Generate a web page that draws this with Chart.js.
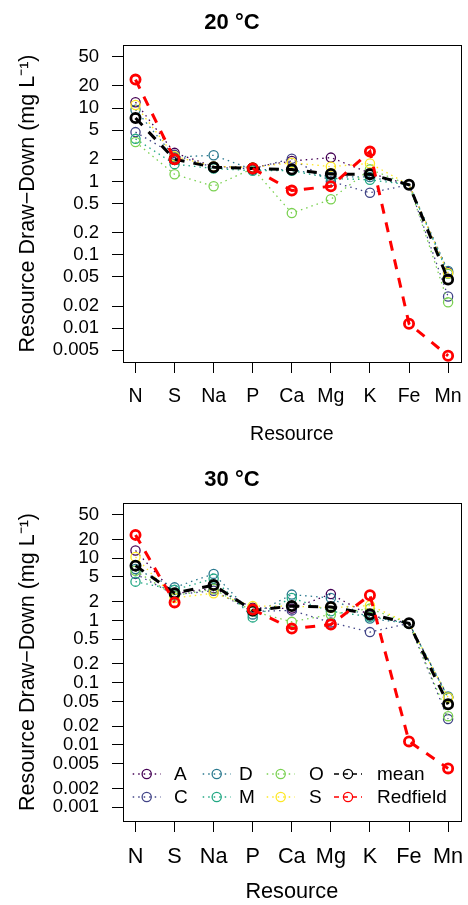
<!DOCTYPE html>
<html>
<head>
<meta charset="utf-8">
<script src="https://cdn.jsdelivr.net/npm/chart.js@4/dist/chart.umd.min.js"></script>
<style>
  body { margin: 0; background: #fff; }
  canvas { display: block; }
</style>
</head>
<body>
<canvas id="chart20" width="468" height="450"></canvas>
<canvas id="chart30" width="468" height="455"></canvas>
<script>
// categories
var resources = ['N', 'S', 'Na', 'P', 'Ca', 'Mg', 'K', 'Fe', 'Mn'];
var groups = ['A', 'C', 'D', 'M', 'O', 'S'];
var groupColors = ['#440154', '#414487', '#2A788E', '#22A884', '#7AD151', '#FDE725'];

// 20 °C draw-down (mg/L)
var A20 = [12.0, 2.45, 1.6, 1.55, 1.9, 2.11, 1.3, 0.9, 0.058];
var C20 = [4.7, 2.3, 1.55, 1.5, 2.04, 1.0, 0.70, 0.9, 0.027];
var D20 = [9.5, 2.15, 2.27, 1.45, 1.45, 1.15, 1.15, 0.9, 0.060];
var M20 = [3.8, 1.72, 1.5, 1.4, 1.4, 1.1, 1.05, 0.9, 0.055];
var O20 = [3.45, 1.25, 0.86, 1.5, 0.37, 0.57, 1.46, 0.9, 0.0225];
var S20 = [11.0, 2.2, 1.6, 1.55, 1.8, 1.59, 1.76, 0.9, 0.056];
var mean20 = [7.3, 2.0, 1.56, 1.5, 1.45, 1.26, 1.25, 0.9, 0.046];
var redfield20 = [24.4, 2.0, null, 1.5, 0.75, 0.86, 2.55, 0.0115, 0.0042];

// 30 °C draw-down (mg/L)
var A30 = [13.3, 2.7, 3.3, 1.6, 1.55, 2.65, 1.2, 0.9, 0.058];
var C30 = [5.6, 2.6, 3.0, 1.4, 1.45, 0.93, 0.65, 0.9, 0.026];
var D30 = [6.7, 3.4, 5.6, 1.25, 2.6, 2.3, 1.07, 0.9, 0.060];
var M30 = [4.2, 3.1, 4.7, 1.12, 2.3, 1.4, 1.15, 0.9, 0.058];
var O30 = [6.3, 2.5, 3.2, 1.4, 0.95, 1.25, 1.55, 0.9, 0.029];
var S30 = [10.5, 2.3, 2.74, 1.7, 1.7, 1.6, 1.74, 0.9, 0.058];
var mean30 = [7.6, 2.74, 3.7, 1.45, 1.7, 1.65, 1.26, 0.9, 0.045];
var redfield30 = [23.7, 1.95, null, 1.5, 0.74, 0.86, 2.55, 0.0114, 0.0042];

// tick labels
var yTicks20 = [0.005, 0.01, 0.02, 0.05, 0.1, 0.2, 0.5, 1, 2, 5, 10, 20, 50];
var yTicks30 = [0.001, 0.002, 0.005, 0.01, 0.02, 0.05, 0.1, 0.2, 0.5, 1, 2, 5, 10, 20, 50];

var FONT = "'Liberation Sans', Arial, Helvetica, sans-serif";

function toPoints(values) {
    return values.map(function (v, i) { return { x: i + 1, y: v }; });
}

function buildDatasets(series, mean, redfield) {
    var sets = [];
    groups.forEach(function (g, i) {
        sets.push({
            label: g,
            data: toPoints(series[i]),
            borderColor: groupColors[i],
            pointBorderColor: groupColors[i],
            backgroundColor: 'transparent',
            pointBackgroundColor: 'transparent',
            borderWidth: 1.3,
            borderDash: [1.5, 4],
            pointRadius: 4.6,
            pointBorderWidth: 1.3,
            order: 7 - i
        });
    });
    sets.push({
        label: 'mean',
        data: toPoints(mean),
        borderColor: '#000',
        pointBorderColor: '#000',
        pointBackgroundColor: 'transparent',
        borderWidth: 3,
        borderDash: [10, 9],
        pointRadius: 4.6,
        pointBorderWidth: 2.8,
        order: 1
    });
    sets.push({
        label: 'Redfield',
        data: toPoints(redfield),
        borderColor: '#ff0000',
        pointBorderColor: '#ff0000',
        pointBackgroundColor: 'transparent',
        borderWidth: 3,
        borderDash: [10, 9],
        pointRadius: 4.6,
        pointBorderWidth: 2.8,
        spanGaps: false,
        order: 0
    });
    return sets;
}

// frame round the plot region
var boxPlugin = {
    id: 'box',
    afterDatasetsDraw: function (chart) {
        var a = chart.chartArea, ctx = chart.ctx;
        ctx.save();
        ctx.strokeStyle = '#000';
        ctx.lineWidth = 1;
        ctx.strokeRect(Math.round(a.left) + 0.5, Math.round(a.top) + 0.5,
            Math.round(a.right - a.left), Math.round(a.bottom - a.top));
        ctx.restore();
    }
};

// legend inside the plot, bottom left, 4 columns x 2 rows
var insideLegend = {
    id: 'insideLegend',
    afterDatasetsDraw: function (chart) {
        var a = chart.chartArea, ctx = chart.ctx;
        var colCircle = [23.7, 93.7, 157.7, 225];
        var colText = [51, 116, 186, 254];
        var rowY = [-47, -24];
        ctx.save();
        chart.data.datasets.forEach(function (ds, i) {
            var col = Math.floor(i / 2), row = i % 2;
            var cx = a.left + colCircle[col];
            var cy = a.bottom + rowY[row];
            var thick = ds.label === 'mean' || ds.label === 'Redfield';
            ctx.strokeStyle = ds.borderColor;
            ctx.lineWidth = thick ? 1.5 : 1.3;
            ctx.setLineDash(thick ? [5, 4] : [1.5, 4]);
            ctx.beginPath();
            ctx.moveTo(cx - 14, cy);
            ctx.lineTo(cx + 14, cy);
            ctx.stroke();
            ctx.setLineDash([]);
            ctx.lineWidth = 1.3;
            ctx.beginPath();
            ctx.arc(cx, cy, 4.6, 0, Math.PI * 2);
            ctx.stroke();
            ctx.fillStyle = '#000';
            ctx.font = '19px ' + FONT;
            ctx.textAlign = 'left';
            ctx.textBaseline = 'middle';
            ctx.fillText(ds.label, a.left + colText[col], cy + 1);
        });
        ctx.restore();
    }
};

function makeChart(id, titleText, series, mean, redfield, yTicks, geo, withLegend) {
    // R style 4% extension of the log axis
    var lo = Math.log10(yTicks[0]), hi = Math.log10(yTicks[yTicks.length - 1]);
    var ext = (hi - lo) * 0.04;
    var plugins = [boxPlugin];
    if (withLegend) plugins.push(insideLegend);
    return new Chart(document.getElementById(id), {
        type: 'line',
        data: { datasets: buildDatasets(series, mean, redfield) },
        options: {
            responsive: false,
            animation: false,
            layout: { padding: { left: 0, right: 4, top: 0, bottom: 0 } },
            plugins: {
                legend: { display: false },
                tooltip: { enabled: false },
                title: {
                    display: true,
                    text: titleText,
                    color: '#000',
                    font: { family: FONT, size: 22, weight: 'bold' },
                    padding: { top: geo.titleTop, bottom: geo.titleBottom }
                }
            },
            scales: {
                x: {
                    type: 'linear',
                    min: 0.68,
                    max: 9.32,
                    afterBuildTicks: function (scale) {
                        scale.ticks = resources.map(function (r, i) { return { value: i + 1 }; });
                    },
                    afterFit: function (scale) {
                        scale.height = geo.xHeight;
                        scale.paddingLeft = 0;
                        scale.paddingRight = 0;
                    },
                    grid: { drawOnChartArea: false, tickLength: 11, color: '#000', lineWidth: 1 },
                    border: { display: false },
                    ticks: {
                        color: '#000',
                        padding: geo.xTickPad,
                        maxRotation: 0,
                        autoSkip: false,
                        font: { family: FONT, size: geo.xFont },
                        callback: function (v) { return resources[Math.round(v) - 1]; }
                    },
                    title: {
                        display: true,
                        text: 'Resource',
                        color: '#000',
                        font: { family: FONT, size: geo.xFont },
                        padding: { top: 0, bottom: geo.xTitlePad }
                    }
                },
                y: {
                    type: 'logarithmic',
                    min: Math.pow(10, lo - ext),
                    max: Math.pow(10, hi + ext),
                    afterBuildTicks: function (scale) {
                        scale.ticks = yTicks.map(function (v) { return { value: v }; });
                    },
                    afterFit: function (scale) {
                        scale.width = 123;
                        scale.paddingTop = 0;
                        scale.paddingBottom = 0;
                    },
                    grid: { drawOnChartArea: false, tickLength: 11, color: '#000', lineWidth: 1 },
                    border: { display: false },
                    ticks: {
                        color: '#000',
                        padding: 13,
                        autoSkip: false,
                        font: { family: FONT, size: 18.5 },
                        callback: function (v) { return String(v); }
                    },
                    title: {
                        display: true,
                        text: 'Resource Draw\u2212Down (mg L\u207B\u00B9)',
                        color: '#000',
                        font: { family: FONT, size: 21.5 },
                        padding: { top: 15, bottom: 0 }
                    }
                }
            }
        },
        plugins: plugins
    });
}

makeChart('chart20', '20 \u00B0C', [A20, C20, D20, M20, O20, S20], mean20, redfield20, yTicks20,
    { titleTop: 10, titleBottom: 8.6, xHeight: 88, xFont: 19.5, xTickPad: 12, xTitlePad: 4 }, false);
makeChart('chart30', '30 \u00B0C', [A30, C30, D30, M30, O30, S30], mean30, redfield30, yTicks30,
    { titleTop: 16.5, titleBottom: 10.1, xHeight: 84, xFont: 21.7, xTickPad: 12, xTitlePad: 0 }, true);
</script>
</body>
</html>
